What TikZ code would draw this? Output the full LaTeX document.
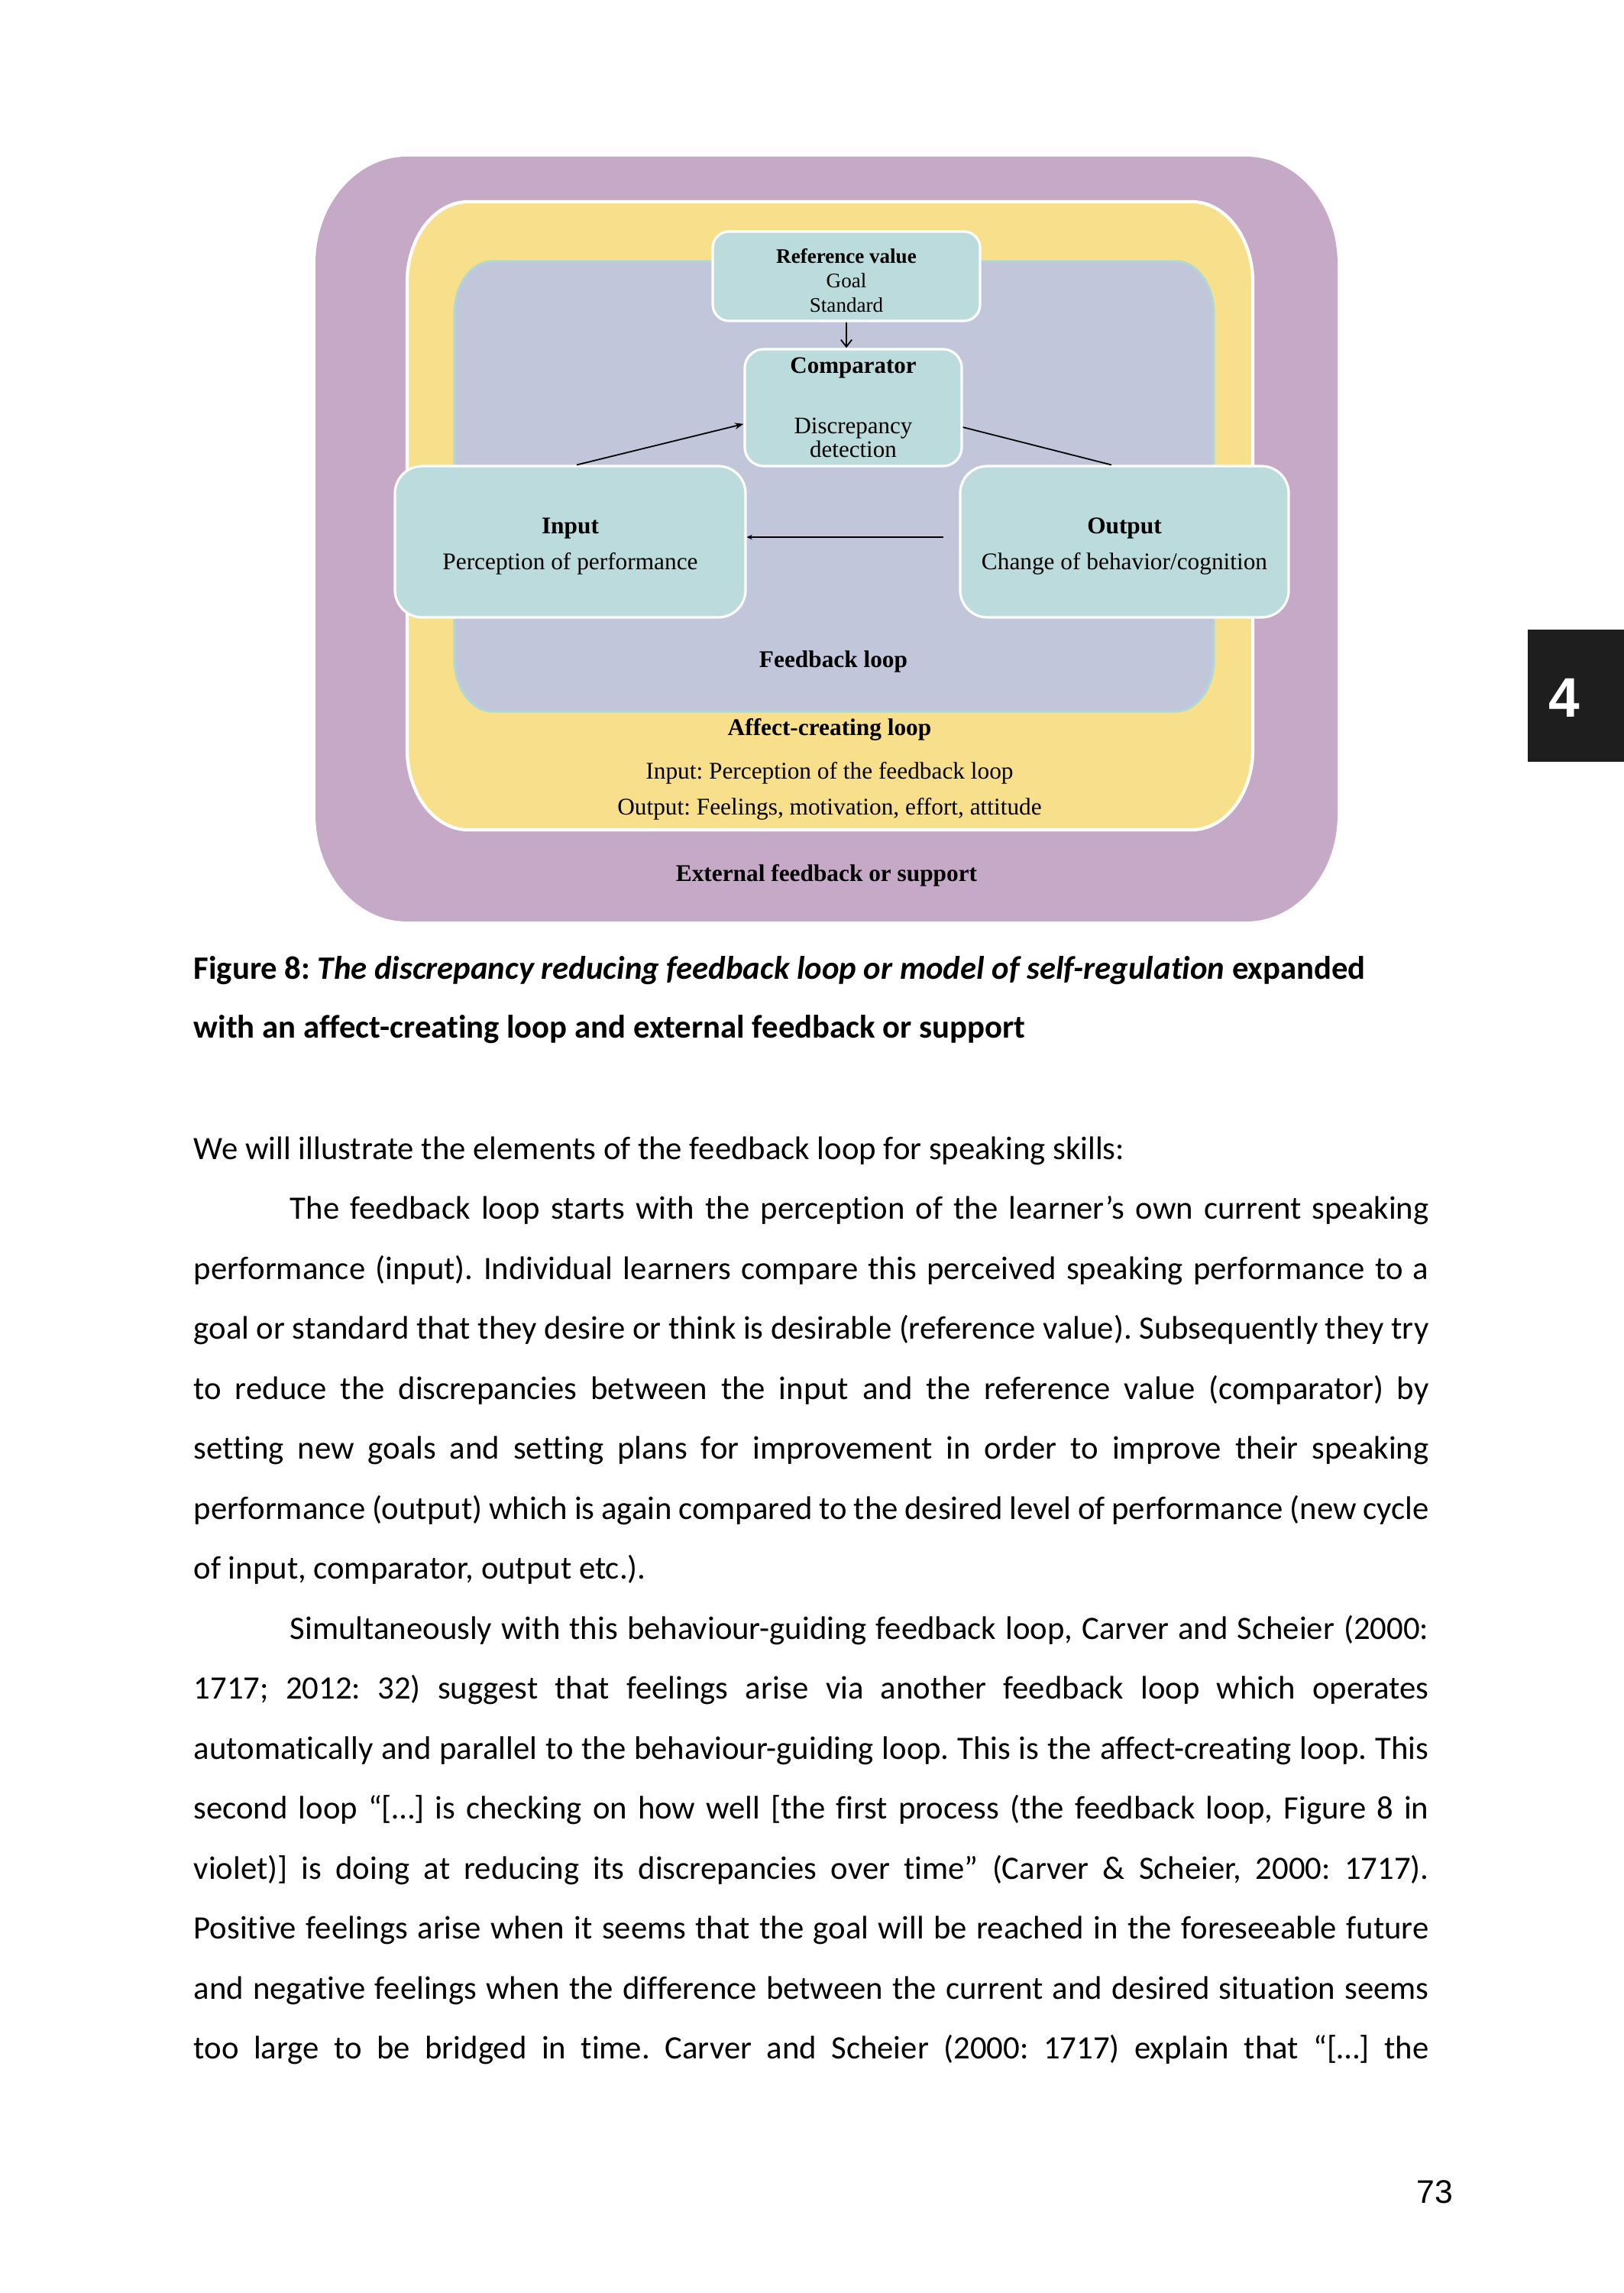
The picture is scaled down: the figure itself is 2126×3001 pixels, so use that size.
\documentclass[tikz,border=0pt]{standalone}
\usepackage{fontspec}
\usepackage{xcolor}
\setmainfont{Carlito}[Ligatures=NoCommon]
\newfontfamily\figfont{Liberation Serif}
\newfontfamily\numfont{Liberation Sans}
\usetikzlibrary{arrows.meta}
\frenchspacing

\definecolor{extpurple}{HTML}{C5A9C7}
\definecolor{affyellow}{HTML}{F8DF8B}
\definecolor{loopblue}{HTML}{C1C6DB}
\definecolor{loopedge}{HTML}{B2D8D6}
\definecolor{unitteal}{HTML}{BBDBDD}
\definecolor{tabblack}{HTML}{1E1E1E}

\newcommand\softframe[7]{%
  \path[#1] (#2,#3+#7) -- (#2,#5-#7)
    .. controls (#2,#5-0.448*#7) and (#2+0.448*#6,#5) .. (#2+#6,#5)
    -- (#4-#6,#5)
    .. controls (#4-0.448*#6,#5) and (#4,#5-0.448*#7) .. (#4,#5-#7)
    -- (#4,#3+#7)
    .. controls (#4,#3+0.448*#7) and (#4-0.448*#6,#3) .. (#4-#6,#3)
    -- (#2+#6,#3)
    .. controls (#2+0.448*#6,#3) and (#2,#3+0.448*#7) .. (#2,#3+#7) -- cycle;}
\newcommand\jline[1]{\makebox[454.1pt][s]{\spaceskip=0pt\xspaceskip=0pt #1}}

\begin{document}
\begin{tikzpicture}[x=0.28085pt,y=-0.28085pt,
  unitbox/.style={fill=unitteal,draw=white,line width=0.9pt,inner sep=0pt,align=center},
  figtext/.style={anchor=base,inner sep=0pt,font=\figfont\fontsize{8.8}{10}\selectfont},
  pagetext/.style={anchor=base west,text width=454.1pt,align=justify,inner sep=0pt},
  link/.style={line width=0.5pt,black}]
\useasboundingbox (0,0) rectangle (2126,3001);
\fill[white] (0,0) rectangle (2126,3001);
\softframe{fill=extpurple}{413}{205}{1751}{1206}{120}{140}
\softframe{fill=affyellow,draw=white,line width=1.2pt}{533}{264}{1640}{1086}{80}{105}
\softframe{fill=loopblue,draw=loopedge,line width=0.9pt}{595}{342}{1589}{931}{50}{68}
\node[unitbox,minimum width=98.3pt,minimum height=32.9pt,rounded corners=6pt,
  font=\figfont\fontsize{7.6}{9}\selectfont] (refval) at (1108,361.5)
  {\rule{0pt}{8.6pt}\textbf{Reference value}\\Goal\\Standard};
\node[unitbox,minimum width=79.8pt,minimum height=43pt,rounded corners=7pt,
  font=\figfont\fontsize{8.7}{8.7}\selectfont] (comp) at (1117,533.5)
  {\textbf{Comparator}\\[13.7pt]Discrepancy\\detection};
\node[unitbox,minimum width=128.9pt,minimum height=55.6pt,rounded corners=10pt,
  font=\figfont\fontsize{8.8}{13.2}\selectfont] (input) at (746.5,709)
  {\rule{0pt}{9.2pt}\textbf{Input}\\Perception of performance};
\node[unitbox,minimum width=120.8pt,minimum height=55.6pt,rounded corners=10pt,
  font=\figfont\fontsize{8.8}{13.2}\selectfont] (output) at (1472,709)
  {\rule{0pt}{9.2pt}\textbf{Output}\\Change of behavior/cognition};
\coordinate (loopend) at (1235,703);
\draw[link,-{Straight Barb[length=2.6pt,width=4pt]}] (refval.south) -- (refval.south |- comp.north);
\draw[link,-{Stealth[length=3.2pt,width=2.4pt]}] ([xshift=2.4pt]input.north) -- ([yshift=-6pt]comp.west);
\draw[link] ([yshift=-7.2pt]comp.east) -- ([xshift=-4.8pt]output.north);
\draw[link,-{Stealth[length=2pt,width=1.8pt]}] (loopend) -- (input.east |- loopend);
\node[figtext] (fbloop) at (1091,873) {\textbf{Feedback loop}};
\node[figtext] (affloop) at (1086,962) {\textbf{Affect-creating loop}};
\node[figtext] (affin) at (1086,1019) {Input: Perception of the feedback loop};
\node[figtext] (affout) at (1086,1066) {Output: Feelings, motivation, effort, attitude};
\node[figtext] (external) at (1082,1153) {\textbf{External feedback or support}};
\node[pagetext,font=\fontsize{12}{21.9}\selectfont\bfseries] (caption) at (253,1281)
  {Figure 8: \textit{The discrepancy reducing feedback loop or model of self-regulation} expanded\\
   with an affect-creating loop and external feedback or support};
\node[pagetext,font=\fontsize{12}{22.05}\selectfont] (body) at (253,1517)
  {We will illustrate the elements of the feedback loop for speaking skills:\\
   \jline{\hspace*{35.4pt}The feedback loop starts with the perception of the learner’s own current speaking}\\
   \jline{performance (input). Individual learners compare this perceived speaking performance to a}\\
   \jline{goal or standard that they desire or think is desirable (reference value). Subsequently they try}\\
   \jline{to reduce the discrepancies between the input and the reference value (comparator) by}\\
   \jline{setting new goals and setting plans for improvement in order to improve their speaking}\\
   \jline{performance (output) which is again compared to the desired level of performance (new cycle}\\
   of input, comparator, output etc.).\\
   \jline{\hspace*{35.4pt}Simultaneously with this behaviour-guiding feedback loop, Carver and Scheier (2000:}\\
   \jline{1717; 2012: 32) suggest that feelings arise via another feedback loop which operates}\\
   \jline{automatically and parallel to the behaviour-guiding loop. This is the affect-creating loop. This}\\
   \jline{second loop “[…] is checking on how well [the first process (the feedback loop, Figure 8 in}\\
   \jline{violet)] is doing at reducing its discrepancies over time” (Carver \& Scheier, 2000: 1717).}\\
   \jline{Positive feelings arise when it seems that the goal will be reached in the foreseeable future}\\
   \jline{and negative feelings when the difference between the current and desired situation seems}\\
   \jline{too large to be bridged in time. Carver and Scheier (2000: 1717) explain that “[…] the}};
\fill[tabblack] (2000,824) rectangle (2126,997);
\node[anchor=base,inner sep=0pt,text=white,font=\numfont\fontsize{20.5}{24}\selectfont\bfseries] (chapter) at (2047.5,938) {4};
\node[anchor=base east,inner sep=0pt,font=\numfont\fontsize{12}{14}\selectfont] (pagenum) at (1903,2883) {73};
\end{tikzpicture}
\end{document}
